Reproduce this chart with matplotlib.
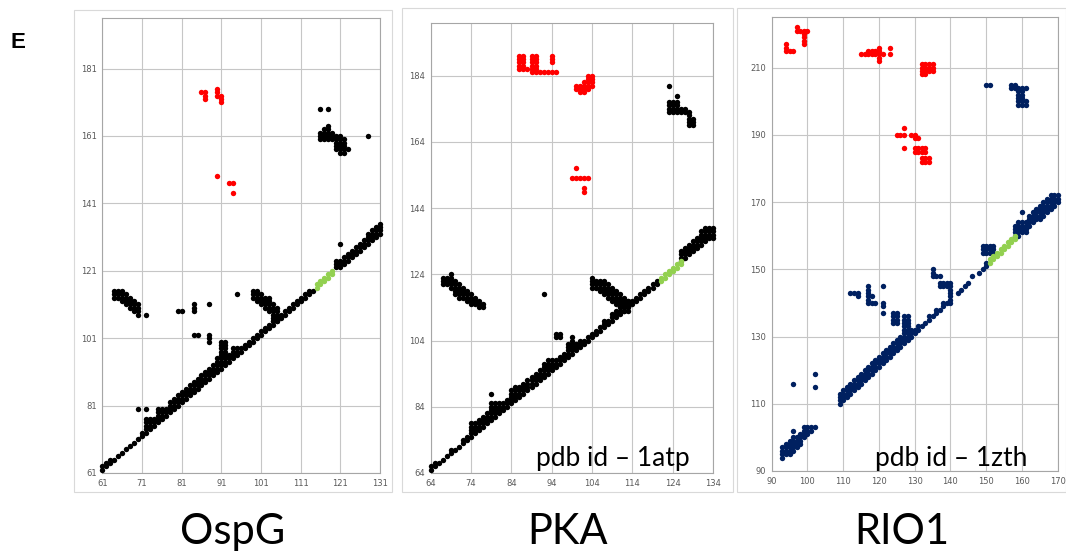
import matplotlib
matplotlib.use("Agg")
import matplotlib.pyplot as plt
from matplotlib.patches import Rectangle

# contact runs: (residue_x, residue_y_from, residue_y_to)
# ---- OspG ----
ospg_black = [
    (61, 62, 63), (62, 63, 64), (63, 64, 65), (64, 65, 65), (65, 66, 66), (66, 67, 67),
    (67, 68, 68), (68, 69, 69), (69, 70, 70), (70, 71, 71), (71, 72, 73), (72, 73, 77),
    (73, 74, 77), (74, 75, 77), (75, 76, 80), (76, 77, 80), (77, 78, 80), (78, 79, 82),
    (79, 80, 83), (80, 81, 84), (81, 82, 85), (82, 83, 86), (83, 84, 87), (84, 85, 88),
    (85, 86, 89), (86, 87, 90), (87, 88, 91), (88, 89, 92), (89, 90, 93), (90, 91, 95),
    (91, 92, 100), (92, 93, 100), (93, 94, 96), (94, 95, 98), (95, 96, 98), (96, 97, 98),
    (97, 98, 99), (98, 99, 100), (99, 100, 101), (100, 101, 102), (101, 102, 103),
    (102, 103, 104), (103, 104, 105), (104, 105, 106), (105, 106, 107), (106, 107, 108),
    (107, 108, 109), (108, 109, 110), (109, 110, 111), (110, 111, 112), (111, 112, 113),
    (112, 113, 114), (113, 114, 115), (114, 115, 115),
    (120, 122, 124), (121, 122, 124), (122, 123, 125), (123, 124, 126), (124, 125, 127),
    (125, 126, 128), (126, 127, 129), (127, 128, 130), (128, 129, 132), (129, 130, 133),
    (130, 131, 134), (131, 132, 135),
    # off-diagonal
    (70, 80, 80), (72, 80, 80), (95, 114, 114), (121, 129, 129),
    (64, 113, 115), (65, 113, 115), (66, 112, 115), (67, 111, 114), (68, 110, 113),
    (69, 109, 112), (70, 108, 111), (72, 108, 108),
    (80, 109, 109), (81, 109, 109), (84, 109, 111), (88, 111, 111),
    (84, 102, 102), (85, 102, 102), (88, 100, 102),
    (99, 113, 115), (100, 112, 115), (101, 111, 114), (102, 110, 113), (103, 109, 113),
    (104, 106, 111), (105, 106, 110),
    (116, 169, 169), (118, 169, 169), (118, 164, 164), (116, 160, 162), (117, 160, 163),
    (118, 160, 163), (119, 160, 162), (120, 157, 161), (121, 156, 161), (122, 156, 160),
    (123, 157, 157), (128, 161, 161),
]
ospg_green = [(115, 116, 117), (116, 117, 118), (117, 118, 119), (118, 119, 120), (119, 120, 121)]
ospg_red = [
    (86, 174, 174), (87, 172, 174), (90, 173, 175), (91, 171, 173),
    (90, 149, 149), (93, 147, 147), (94, 147, 147), (94, 144, 144),
]

# ---- PKA ----
pka_black = [
    (64, 65, 66), (65, 66, 67), (66, 67, 67), (67, 68, 68), (68, 69, 69), (69, 70, 71),
    (70, 71, 71), (71, 72, 72), (72, 73, 74), (73, 74, 75), (74, 75, 79), (75, 76, 79),
    (76, 77, 80), (77, 78, 81), (78, 79, 82), (79, 80, 85), (80, 81, 85), (81, 82, 85),
    (82, 83, 85), (83, 84, 86), (84, 85, 89), (85, 86, 90), (86, 87, 90), (87, 88, 91),
    (88, 89, 92), (89, 90, 93), (90, 91, 94), (91, 92, 95), (92, 93, 97), (93, 94, 98),
    (94, 95, 98), (95, 96, 98), (96, 97, 99), (97, 98, 100), (98, 99, 101), (99, 100, 104),
    (100, 101, 103), (101, 102, 104), (102, 103, 104), (103, 104, 105), (104, 105, 106),
    (105, 106, 107), (106, 107, 108), (107, 108, 110), (108, 109, 110), (109, 110, 112),
    (110, 111, 113), (111, 112, 114), (112, 113, 116), (113, 114, 116), (114, 115, 116),
    (115, 116, 117), (116, 117, 118), (117, 118, 119), (118, 119, 120), (119, 120, 121),
    (120, 121, 122),
    (126, 128, 131), (127, 129, 132), (128, 130, 133), (129, 131, 134), (130, 132, 135),
    (131, 133, 137), (132, 134, 138), (133, 135, 138), (134, 135, 138),
    # off-diagonal
    (79, 88, 88), (92, 118, 118), (95, 105, 106), (96, 105, 106), (99, 105, 105),
    (98, 102, 103), (100, 102, 103),
    (67, 121, 123), (68, 121, 123), (69, 120, 124), (70, 118, 122), (71, 117, 121),
    (72, 117, 120), (73, 116, 119), (74, 115, 118), (75, 115, 117), (76, 114, 116),
    (77, 114, 115),
    (104, 123, 123), (104, 120, 122), (105, 120, 122), (106, 119, 122), (107, 118, 122),
    (108, 117, 121), (109, 116, 120), (110, 115, 119), (111, 114, 118), (112, 113, 117),
    (113, 113, 116),
    (123, 181, 181), (125, 178, 178), (123, 173, 176), (124, 173, 176), (125, 173, 176),
    (126, 173, 174), (127, 173, 174), (128, 169, 173), (129, 169, 171),
]
pka_green = [(121, 122, 123), (122, 123, 124), (123, 124, 125), (124, 125, 126),
             (125, 126, 127), (126, 127, 128)]
pka_red = [
    (86, 186, 190), (87, 186, 190), (88, 186, 186), (89, 185, 190), (90, 185, 190),
    (91, 185, 185), (92, 185, 185), (93, 185, 185), (94, 185, 185), (95, 185, 185),
    (94, 188, 190),
    (100, 180, 181), (101, 179, 181), (102, 179, 182), (103, 180, 184), (104, 181, 184),
    (100, 156, 156), (99, 153, 153), (100, 153, 153), (101, 153, 153), (102, 153, 153),
    (103, 153, 153), (102, 149, 150),
]

# ---- RIO1 ----
rio_blue = [
    (93, 94, 97), (94, 95, 98), (95, 95, 99), (96, 96, 100), (97, 97, 100), (98, 98, 101),
    (99, 100, 103), (100, 101, 103), (101, 102, 103), (102, 103, 103),
    (96, 102, 102), (96, 116, 116), (102, 119, 119), (102, 115, 115),
    (109, 110, 113), (110, 111, 114), (111, 112, 115), (112, 113, 116), (113, 114, 117),
    (114, 115, 118), (115, 116, 119), (116, 117, 120), (117, 118, 121), (118, 119, 122),
    (119, 120, 123), (120, 121, 124), (121, 122, 125), (122, 123, 126), (123, 124, 127),
    (124, 125, 128), (125, 126, 129), (126, 127, 130), (127, 128, 136), (128, 129, 136),
    (129, 130, 132), (130, 131, 132), (131, 132, 133), (132, 133, 133), (133, 134, 134),
    (134, 135, 136), (135, 136, 136), (136, 137, 138), (137, 138, 138), (138, 139, 140),
    (139, 140, 140), (140, 140, 141),
    (142, 143, 143), (143, 144, 144), (144, 145, 145), (145, 146, 146), (146, 148, 148),
    (148, 149, 149), (149, 150, 150), (150, 151, 152),
    (112, 143, 143), (113, 143, 143), (114, 142, 143),
    (117, 140, 145), (118, 140, 140), (118, 142, 142), (119, 140, 140),
    (121, 145, 145), (121, 137, 137), (121, 139, 140),
    (124, 134, 137), (125, 134, 137),
    (135, 148, 150), (136, 148, 148), (137, 148, 148),
    (137, 145, 146), (138, 145, 146), (139, 145, 146), (140, 142, 146),
    (149, 155, 157), (150, 155, 157), (151, 155, 157), (152, 155, 157),
    (158, 160, 163), (159, 160, 164), (160, 161, 164), (161, 161, 164), (160, 167, 167),
    (162, 163, 166), (163, 164, 167), (164, 165, 168), (165, 165, 169), (166, 166, 170),
    (167, 167, 171), (168, 168, 172), (169, 169, 172), (170, 170, 172),
    (150, 205, 205), (151, 205, 205), (157, 204, 205), (158, 204, 205),
    (159, 199, 204), (160, 199, 204), (161, 199, 200), (161, 204, 204),
]
rio_green = [(151, 152, 153), (152, 153, 154), (153, 154, 155), (154, 155, 156),
             (155, 156, 157), (156, 157, 158), (157, 158, 159), (158, 159, 160)]
rio_red = [
    (94, 215, 217), (95, 215, 215), (96, 215, 215), (97, 221, 222), (98, 221, 221),
    (99, 217, 221), (100, 221, 221),
    (115, 214, 214), (116, 214, 214), (117, 214, 215), (118, 214, 215), (119, 214, 215),
    (120, 212, 216), (121, 214, 214), (123, 214, 214), (123, 216, 216),
    (132, 208, 211), (133, 208, 211), (134, 209, 211), (135, 209, 211),
    (127, 192, 192), (125, 190, 190), (126, 190, 190), (127, 190, 190), (127, 186, 186),
    (129, 190, 190), (130, 189, 190), (131, 189, 189),
    (130, 185, 186), (131, 185, 186), (132, 185, 186), (133, 185, 186),
    (132, 182, 183), (133, 182, 183), (134, 182, 183),
]

titles = ["OspG", "PKA", "RIO1"]
pdb_labels = [None, "pdb id \u2013 1atp", "pdb id \u2013 1zth"]


def expand(runs):
    xs, ys = [], []
    for x, y0, y1 in runs:
        for y in range(y0, y1 + 1):
            xs.append(x)
            ys.append(y)
    return xs, ys


W, H = 1066, 556
fig = plt.figure(figsize=(W / 100, H / 100), dpi=100)

# axes boxes in pixels: left, top, right, bottom
boxes = [(102.3, 18, 380, 473), (430.7, 22.7, 713, 473), (771.7, 17.3, 1057.7, 471)]
frames = [(74, 10, 392, 492), (402, 8, 733, 492), (737, 8, 1066, 492)]
limits = [((61, 131), (61, 196), range(61, 132, 10), range(61, 182, 20)),
          ((64, 134), (64, 200), range(64, 135, 10), range(64, 185, 20)),
          ((90, 170), (90, 225), range(90, 171, 10), range(90, 211, 20))]
series = [
    [(ospg_black, "black"), (ospg_green, "#92d050"), (ospg_red, "#ff0000")],
    [(pka_black, "black"), (pka_green, "#92d050"), (pka_red, "#ff0000")],
    [(rio_blue, "#002060"), (rio_green, "#92d050"), (rio_red, "#ff0000")],
]
label_pos = [None, (0.918, 0.016), (0.893, 0.011)]

for i in range(3):
    l, t, r, b = frames[i]
    fig.add_artist(Rectangle((l / W, 1 - b / H), (r - l) / W, (b - t) / H,
                             transform=fig.transFigure, fill=False,
                             edgecolor="#d9d9d9", linewidth=0.8))
    l, t, r, b = boxes[i]
    ax = fig.add_axes([l / W, 1 - b / H, (r - l) / W, (b - t) / H])
    xl, yl, xt, yt = limits[i]
    ax.set_xlim(*xl)
    ax.set_ylim(*yl)
    ax.set_xticks(list(xt))
    ax.set_yticks(list(yt))
    ax.grid(True, color="#c6c6c6", linewidth=0.8)
    ax.set_axisbelow(True)
    ax.tick_params(length=0, labelsize=6, colors="#595959", pad=4)
    for s in ax.spines.values():
        s.set_color("#a6a6a6")
        s.set_linewidth(0.8)
    for runs, col in series[i]:
        xs, ys = expand(runs)
        ax.scatter(xs, ys, s=15, c=col, linewidths=0, zorder=3, clip_on=False)
    if pdb_labels[i]:
        ax.text(label_pos[i][0], label_pos[i][1], pdb_labels[i], transform=ax.transAxes,
                ha="right", va="baseline", fontsize=19, family="Lato", color="black")
    cx = (frames[i][0] + frames[i][2]) / 2
    fig.text(cx / W, 1 - 532 / H, titles[i], ha="center", va="center",
             fontsize=30, family="Lato")

fig.text(10 / W, 1 - 42 / H, "E", fontsize=16, fontweight="bold",
         family="Liberation Sans", va="center", ha="left")

fig.savefig("out.png", dpi=100)
